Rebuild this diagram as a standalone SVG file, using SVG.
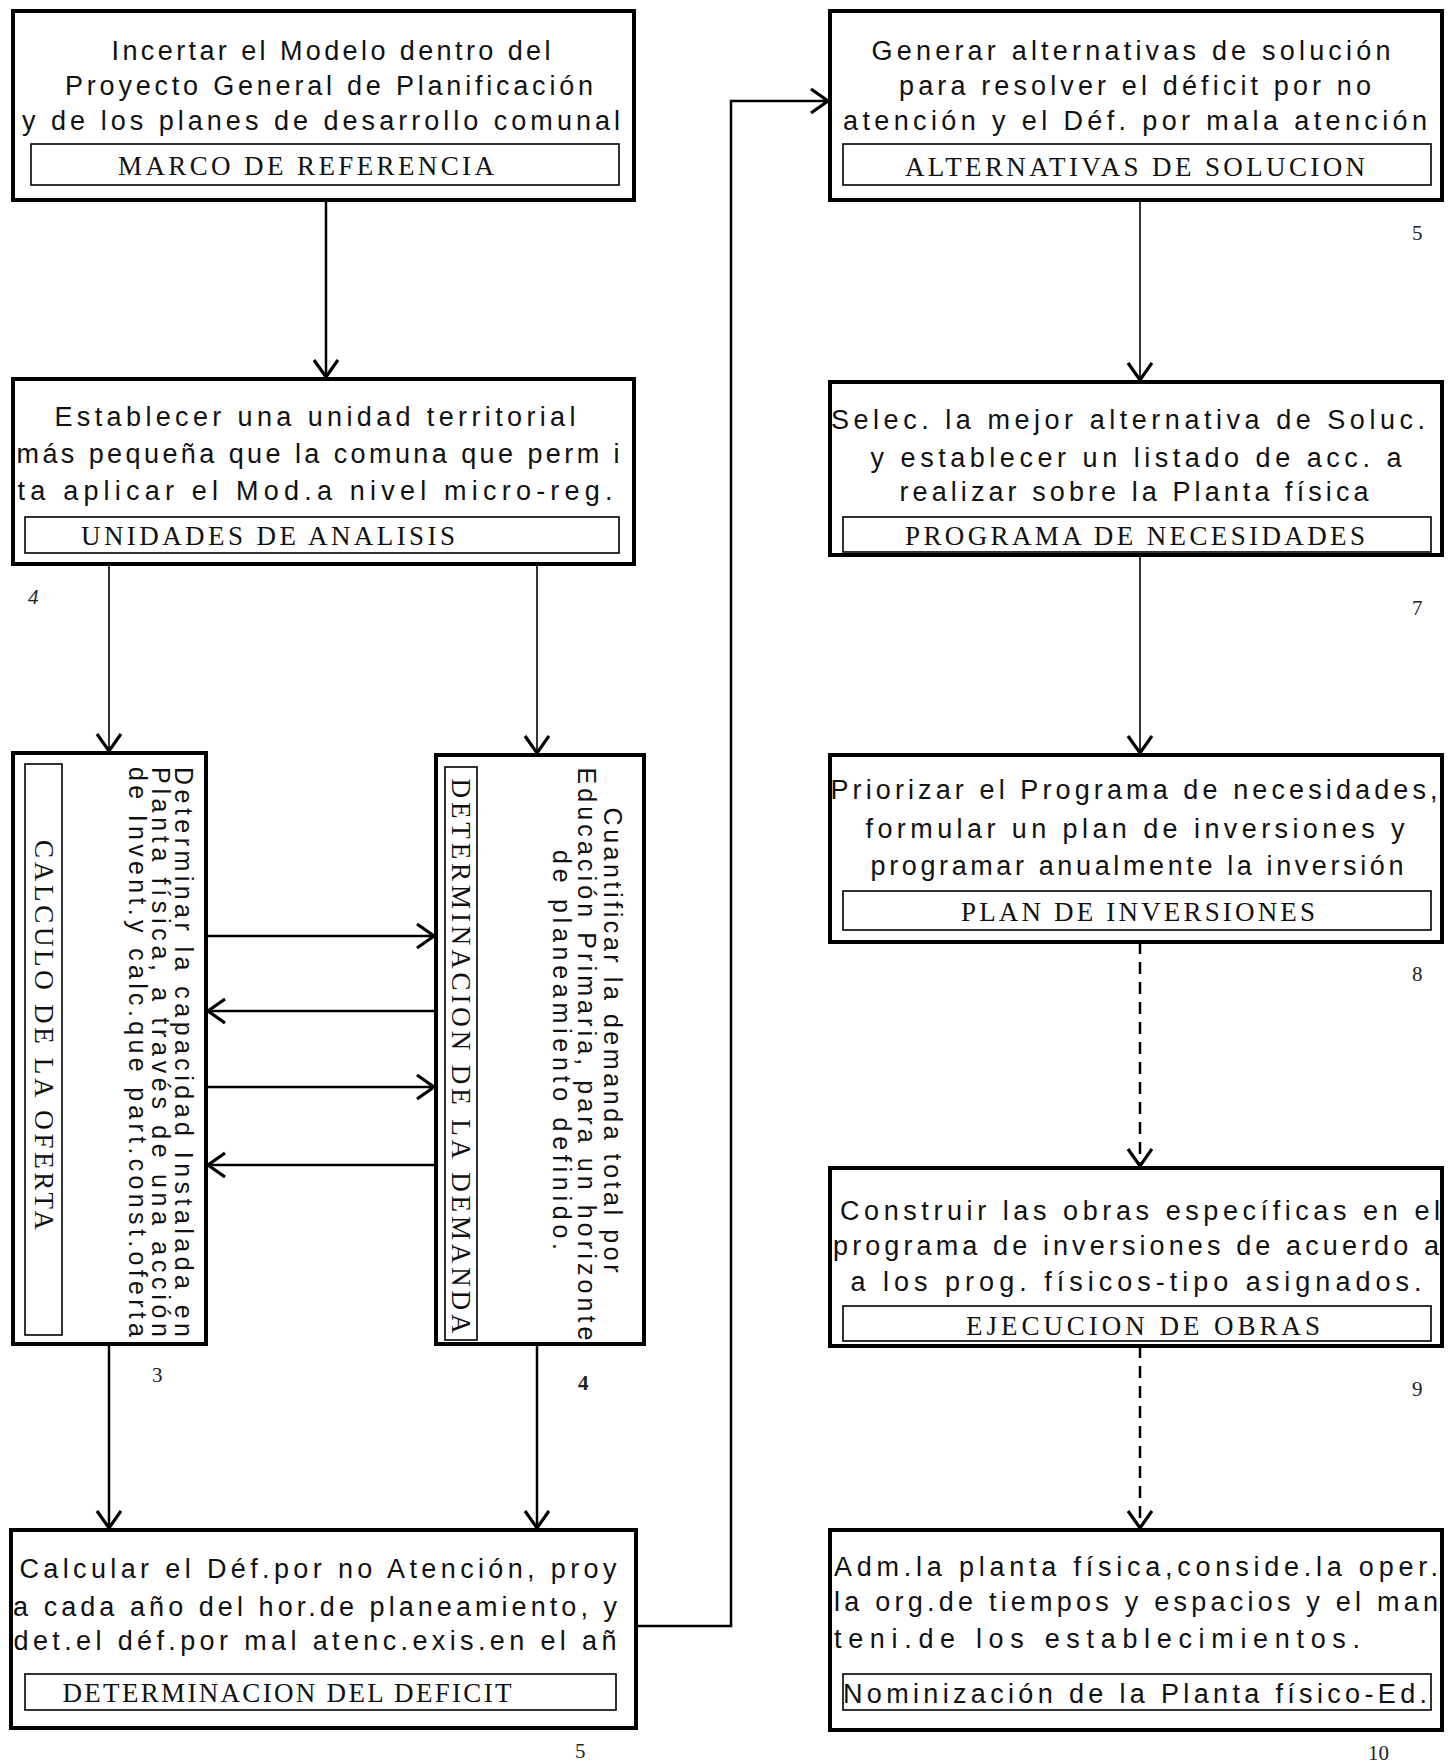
<svg xmlns="http://www.w3.org/2000/svg" width="1455" height="1762" viewBox="0 0 1455 1762">
<style>
.box{fill:#fff;stroke:#000;stroke-width:4}
.lbl{fill:none;stroke:#000;stroke-width:1.6}
.t{font-family:"Liberation Sans",Arial,sans-serif;font-size:27px;fill:#111}
.r{font-size:25px}
.c{font-family:"Liberation Serif","Times New Roman",serif;font-size:27px;fill:#111}
.n{font-family:"Liberation Serif","Times New Roman",serif;font-size:21px;fill:#222}
.conn{stroke:#000;stroke-width:2.5;fill:none}
.thin{stroke-width:1.6}
.dash{stroke-dasharray:12 8}
</style>
<defs>
<marker id="ah" markerUnits="userSpaceOnUse" markerWidth="32" markerHeight="32" refX="19" refY="13" orient="auto">
<path d="M2,1 L19,13 L2,25" fill="none" stroke="#000" stroke-width="3.2"/>
</marker>
</defs>
<rect width="1455" height="1762" fill="#fff"/>

<g id="connectors">
<line class="conn" x1="326" y1="200" x2="326" y2="377" marker-end="url(#ah)"/>
<line class="conn thin" x1="109" y1="564" x2="109" y2="751" marker-end="url(#ah)"/>
<line class="conn thin" x1="537" y1="564" x2="537" y2="753" marker-end="url(#ah)"/>
<line class="conn" x1="206" y1="936" x2="434" y2="936" marker-end="url(#ah)"/>
<line class="conn" x1="436" y1="1011" x2="208" y2="1011" marker-end="url(#ah)"/>
<line class="conn" x1="206" y1="1087" x2="434" y2="1087" marker-end="url(#ah)"/>
<line class="conn" x1="436" y1="1165" x2="208" y2="1165" marker-end="url(#ah)"/>
<line class="conn" x1="109" y1="1344" x2="109" y2="1528" stroke-width="3" marker-end="url(#ah)"/>
<line class="conn" x1="537" y1="1344" x2="537" y2="1528" marker-end="url(#ah)"/>
<path class="conn" d="M636,1626 H731 V101 H828" marker-end="url(#ah)"/>
<line class="conn thin" x1="1140" y1="200" x2="1140" y2="380" marker-end="url(#ah)"/>
<line class="conn thin" x1="1140" y1="555" x2="1140" y2="753" marker-end="url(#ah)"/>
<line class="conn dash" x1="1140" y1="942" x2="1140" y2="1166" marker-end="url(#ah)"/>
<line class="conn dash" x1="1140" y1="1346" x2="1140" y2="1528" stroke-width="3" marker-end="url(#ah)"/>
</g>

<g id="n1">
<rect class="box" x="13" y="11" width="621" height="189"/>
<text class="t" x="331" y="60" text-anchor="middle" textLength="439" lengthAdjust="spacing">Incertar el Modelo dentro del</text>
<text class="t" x="329" y="95" text-anchor="middle" textLength="528" lengthAdjust="spacing">Proyecto General de Planificación</text>
<text class="t" x="321" y="130" text-anchor="middle" textLength="598" lengthAdjust="spacing">y de los planes de desarrollo comunal</text>
<rect class="lbl" x="31" y="144" width="588" height="41"/>
<text class="c" x="306" y="175" text-anchor="middle" textLength="376" lengthAdjust="spacing">MARCO DE REFERENCIA</text>
</g>

<g id="n2">
<rect class="box" x="13" y="379" width="621" height="185"/>
<text class="t" x="315" y="426" text-anchor="middle" textLength="521" lengthAdjust="spacing">Establecer una unidad territorial</text>
<text class="t" x="318" y="463" text-anchor="middle" textLength="603" lengthAdjust="spacing">más pequeña que la comuna que perm i</text>
<text class="t" x="315" y="500" text-anchor="middle" textLength="595" lengthAdjust="spacing">ta aplicar el Mod.a nivel micro-reg.</text>
<rect class="lbl" x="25" y="517" width="594" height="36"/>
<text class="c" x="268" y="545" text-anchor="middle" textLength="374" lengthAdjust="spacing">UNIDADES DE ANALISIS</text>
<text class="n" x="28" y="604" font-style="italic" fill="#555">4</text>
</g>

<g id="n3">
<rect class="box" x="13" y="753" width="193" height="591"/>
<text class="t r" transform="translate(175,1052) rotate(90)" text-anchor="middle" textLength="570" lengthAdjust="spacing">Determinar la capacidad Instalada en</text>
<text class="t r" transform="translate(152,1052) rotate(90)" text-anchor="middle" textLength="570" lengthAdjust="spacing">Planta física, a través de una acción</text>
<text class="t r" transform="translate(129,1052) rotate(90)" text-anchor="middle" textLength="570" lengthAdjust="spacing">de Invent.y calc.que part.const.oferta</text>
<rect class="lbl" x="25" y="764" width="37" height="571"/>
<text class="c" transform="translate(35,1035) rotate(90)" text-anchor="middle" textLength="390" lengthAdjust="spacing">CALCULO DE LA OFERTA</text>
<text class="n" x="152" y="1382">3</text>
</g>

<g id="n4">
<rect class="box" x="436" y="755" width="208" height="589"/>
<text class="t r" transform="translate(604,1040) rotate(90)" text-anchor="middle" textLength="465" lengthAdjust="spacing">Cuantificar la demanda total por</text>
<text class="t r" transform="translate(578,1054) rotate(90)" text-anchor="middle" textLength="573" lengthAdjust="spacing">Educación Primaria, para un horizonte</text>
<text class="t r" transform="translate(553,1050) rotate(90)" text-anchor="middle" textLength="400" lengthAdjust="spacing">de planeamiento definido.</text>
<rect class="lbl" x="445" y="767" width="32" height="573"/>
<text class="c" transform="translate(452,1056) rotate(90)" text-anchor="middle" textLength="555" lengthAdjust="spacing">DETERMINACION DE LA DEMANDA</text>
<text class="n" x="578" y="1390" font-weight="bold">4</text>
</g>

<g id="n5">
<rect class="box" x="11" y="1530" width="625" height="198"/>
<text class="t" x="318" y="1578" text-anchor="middle" textLength="597" lengthAdjust="spacing">Calcular el Déf.por no Atención, proy</text>
<text class="t" x="315" y="1616" text-anchor="middle" textLength="604" lengthAdjust="spacing">a cada año del hor.de planeamiento, y</text>
<text class="t" x="315" y="1650" text-anchor="middle" textLength="603" lengthAdjust="spacing">det.el déf.por mal atenc.exis.en el añ</text>
<rect class="lbl" x="25" y="1674" width="591" height="36"/>
<text class="c" x="287" y="1702" text-anchor="middle" textLength="449" lengthAdjust="spacing">DETERMINACION DEL DEFICIT</text>
<text class="n" x="575" y="1758">5</text>
</g>

<g id="n6">
<rect class="box" x="830" y="11" width="612" height="189"/>
<text class="t" x="1131" y="60" text-anchor="middle" textLength="519" lengthAdjust="spacing">Generar alternativas de solución</text>
<text class="t" x="1135" y="95" text-anchor="middle" textLength="472" lengthAdjust="spacing">para resolver el déficit por no</text>
<text class="t" x="1135" y="130" text-anchor="middle" textLength="584" lengthAdjust="spacing">atención y el Déf. por mala atención</text>
<rect class="lbl" x="843" y="144" width="588" height="41"/>
<text class="c" x="1135" y="176" text-anchor="middle" textLength="460" lengthAdjust="spacing">ALTERNATIVAS DE SOLUCION</text>
<text class="n" x="1412" y="240" fill="#777">5</text>
</g>

<g id="n7">
<rect class="box" x="830" y="382" width="612" height="173"/>
<text class="t" x="1128" y="429" text-anchor="middle" textLength="594" lengthAdjust="spacing">Selec. la mejor alternativa de Soluc.</text>
<text class="t" x="1136" y="467" text-anchor="middle" textLength="531" lengthAdjust="spacing">y establecer un listado de acc. a</text>
<text class="t" x="1134" y="501" text-anchor="middle" textLength="469" lengthAdjust="spacing">realizar sobre la Planta física</text>
<rect class="lbl" x="843" y="517" width="588" height="35"/>
<text class="c" x="1135" y="545" text-anchor="middle" textLength="460" lengthAdjust="spacing">PROGRAMA DE NECESIDADES</text>
<text class="n" x="1412" y="615" fill="#777">7</text>
</g>

<g id="n8">
<rect class="box" x="830" y="755" width="612" height="187"/>
<text class="t" x="1134" y="799" text-anchor="middle" textLength="607" lengthAdjust="spacing">Priorizar el Programa de necesidades,</text>
<text class="t" x="1135" y="838" text-anchor="middle" textLength="539" lengthAdjust="spacing">formular un plan de inversiones y</text>
<text class="t" x="1137" y="875" text-anchor="middle" textLength="533" lengthAdjust="spacing">programar anualmente la inversión</text>
<rect class="lbl" x="843" y="891" width="588" height="39"/>
<text class="c" x="1138" y="921" text-anchor="middle" textLength="354" lengthAdjust="spacing">PLAN DE INVERSIONES</text>
<text class="n" x="1412" y="981" fill="#777">8</text>
</g>

<g id="n9">
<rect class="box" x="830" y="1168" width="612" height="178"/>
<text class="t" x="1140" y="1220" text-anchor="middle" textLength="600" lengthAdjust="spacing">Construir las obras específicas en el</text>
<text class="t" x="1136" y="1255" text-anchor="middle" textLength="606" lengthAdjust="spacing">programa de inversiones de acuerdo a</text>
<text class="t" x="1136" y="1291" text-anchor="middle" textLength="571" lengthAdjust="spacing">a los prog. físicos-tipo asignados.</text>
<rect class="lbl" x="843" y="1306" width="588" height="35"/>
<text class="c" x="1143" y="1335" text-anchor="middle" textLength="354" lengthAdjust="spacing">EJECUCION DE OBRAS</text>
<text class="n" x="1412" y="1396" fill="#777">9</text>
</g>

<g id="n10">
<rect class="box" x="830" y="1530" width="612" height="200"/>
<text class="t" x="834" y="1576" textLength="604" lengthAdjust="spacing">Adm.la planta física,conside.la oper.</text>
<text class="t" x="834" y="1611" textLength="604" lengthAdjust="spacing">la org.de tiempos y espacios y el man</text>
<text class="t" x="834" y="1648" textLength="526" lengthAdjust="spacing">teni.de los establecimientos.</text>
<rect class="lbl" x="843" y="1674" width="588" height="36"/>
<text class="t" x="1135" y="1703" text-anchor="middle" textLength="584" lengthAdjust="spacing">Nominización de la Planta físico-Ed.</text>
<text class="n" x="1368" y="1760">10</text>
</g>
</svg>
